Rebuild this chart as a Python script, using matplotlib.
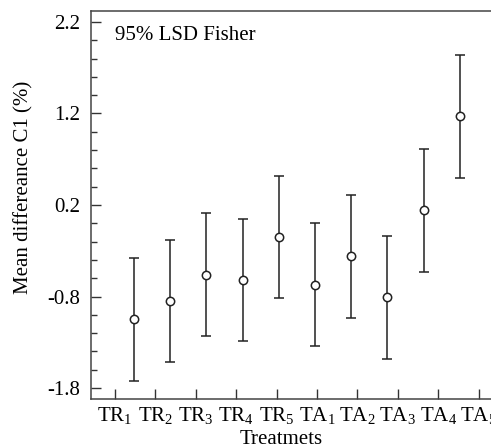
import numpy as np
import matplotlib
matplotlib.use('Agg')
import matplotlib.pyplot as plt
from matplotlib.ticker import MultipleLocator

plt.rcParams['font.family'] = 'Liberation Serif'
plt.rcParams['mathtext.fontset'] = 'custom'
plt.rcParams['mathtext.rm'] = 'Liberation Serif'
plt.rcParams['mathtext.it'] = 'Liberation Serif'

# data
treatments = ['TR$_1$', 'TR$_2$', 'TR$_3$', 'TR$_4$', 'TR$_5$',
              'TA$_1$', 'TA$_2$', 'TA$_3$', 'TA$_4$', 'TA$_5$']
means = [-1.05, -0.85, -0.56, -0.62, -0.15, -0.67, -0.36, -0.81, 0.14, 1.17]
lsd = [0.67, 0.67, 0.67, 0.67, 0.67, 0.67, 0.67, 0.67, 0.67, 0.67]
yticks = [-1.8, -0.8, 0.2, 1.2, 2.2]

fig = plt.figure(figsize=(4.91, 4.48), dpi=100)
ax = fig.add_axes([91/491, (448-399)/448, 400/491, 388/448])

x = np.arange(1, len(means)+1)
ax.errorbar(x, means, yerr=lsd, fmt='o', mfc='white', mec='#222222', ms=6,
            mew=1.1, ecolor='#222222', elinewidth=1.1, capsize=3.5, capthick=1.1)

# tick marks in the original sit on a slightly different spacing than the points
tick_pos = 0.475 + 1.116*np.arange(len(treatments))
ax.set_xticks(tick_pos)
ax.set_xticklabels(treatments)
ax.set_xlim(-0.188, 10.862)

ax.set_ylim(-1.92, 2.32)
ax.set_yticks(yticks)
ax.set_yticklabels(['%.1f' % v for v in yticks])
ax.yaxis.set_minor_locator(MultipleLocator(0.2))

ax.tick_params(axis='both', which='major', direction='in', length=7, width=1,
               labelsize=15, color='#333333')
ax.tick_params(axis='y', which='minor', direction='in', length=4.3, width=1,
               color='#333333')
ax.tick_params(axis='y', pad=8)
ax.tick_params(axis='x', pad=4)

for s in ['left', 'bottom', 'top']:
    ax.spines[s].set_color('#444444')
    ax.spines[s].set_linewidth(1.1)
ax.spines['right'].set_visible(False)

ax.set_ylabel('Mean differeance C1 (%)', fontsize=15)
ax.yaxis.set_label_coords(-0.145, 0.546)
ax.set_xlabel('Treatmets', fontsize=15)
ax.xaxis.set_label_coords(0.475, -0.081)

ax.text(0.06, 0.938, '95% LSD Fisher', transform=ax.transAxes,
        fontsize=15, va='center', ha='left')

fig.savefig('out.png', dpi=100)
